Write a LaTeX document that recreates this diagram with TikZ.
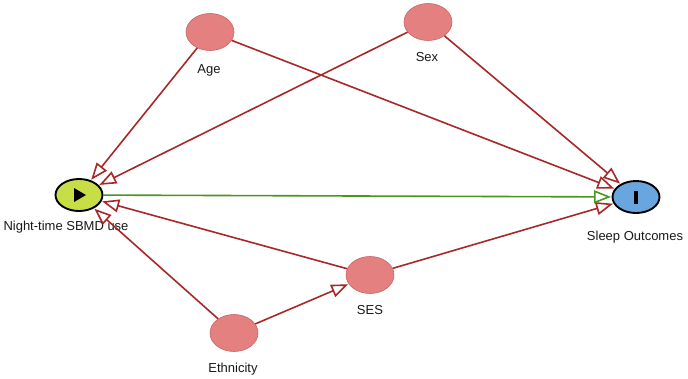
\documentclass[tikz,border=0pt]{standalone}
\usepackage{fontspec}
\setmainfont{Liberation Sans}
\usetikzlibrary{arrows.meta,shapes.geometric,calc}
\definecolor{edgered}{RGB}{168,40,40}
\definecolor{edgegreen}{RGB}{75,150,35}
\definecolor{pinkfill}{RGB}{228,128,128}
\definecolor{pinkdraw}{RGB}{200,100,100}
\definecolor{expfill}{RGB}{200,222,70}
\definecolor{outfill}{RGB}{105,165,222}
\tikzset{
  covar/.style={ellipse, minimum width=48pt, minimum height=37pt, inner sep=0pt, fill=pinkfill, draw=pinkdraw, line width=0.6pt},
  keynode/.style={ellipse, minimum width=47pt, minimum height=32pt, inner sep=0pt, draw=black, line width=1.9pt},
  lbl/.style={font=\fontsize{13}{15}\selectfont, text=black!90, inner sep=0pt},
  redarr/.style={draw=edgered, line width=1.6pt, -{Triangle[open, length=17pt, width=13pt, line width=1.6pt]}, shorten >=0.5pt},
  greenarr/.style={draw=edgegreen, line width=1.6pt, -{Triangle[open, length=17pt, width=13pt, line width=1.6pt]}, shorten >=0.5pt}
}
\begin{document}
\begin{tikzpicture}[x=1pt, y=-1pt]
\useasboundingbox (0,0) rectangle (688,378);
\fill[white] (0,0) rectangle (688,378);
% nodes
\node[covar] (age) at (210,32) {};
\node[covar] (sex) at (428,22) {};
\node[covar] (ses) at (370,275) {};
\node[covar] (eth) at (234,333) {};
\node[keynode, fill=expfill] (sbmd) at (79,195) {};
\node[keynode, fill=outfill] (sleep) at (636,197) {};
% icons
\fill[black] ($(sbmd)+(-5,-7)$) -- ++(12,7) -- ++(-12,7) -- cycle;
\fill[black] ($(sleep)+(-2,-6.5)$) rectangle ($(sleep)+(2,6.5)$);
% labels
\node[lbl] (agel) at (209,70) {Age};
\node[lbl] (sexl) at (427,57) {Sex};
\node[lbl] (sesl) at (370,310) {SES};
\node[lbl] (ethl) at (233,369) {Ethnicity};
\node[lbl] (sbmdl) at (66,227) {Night-time SBMD use};
\node[lbl] (sleepl) at (635,237) {Sleep Outcomes};
% edges
\draw[redarr] (age) -- (sbmd);
\draw[redarr] (age) -- (sleep);
\draw[redarr] (sex) -- (sbmd);
\draw[redarr] (sex) -- (sleep);
\draw[redarr] (ses) -- (sbmd);
\draw[redarr] (ses) -- (sleep);
\draw[redarr] (eth) -- (sbmd);
\draw[redarr] (eth) -- (ses);
\draw[greenarr] (sbmd) -- (sleep);
\end{tikzpicture}
\end{document}
